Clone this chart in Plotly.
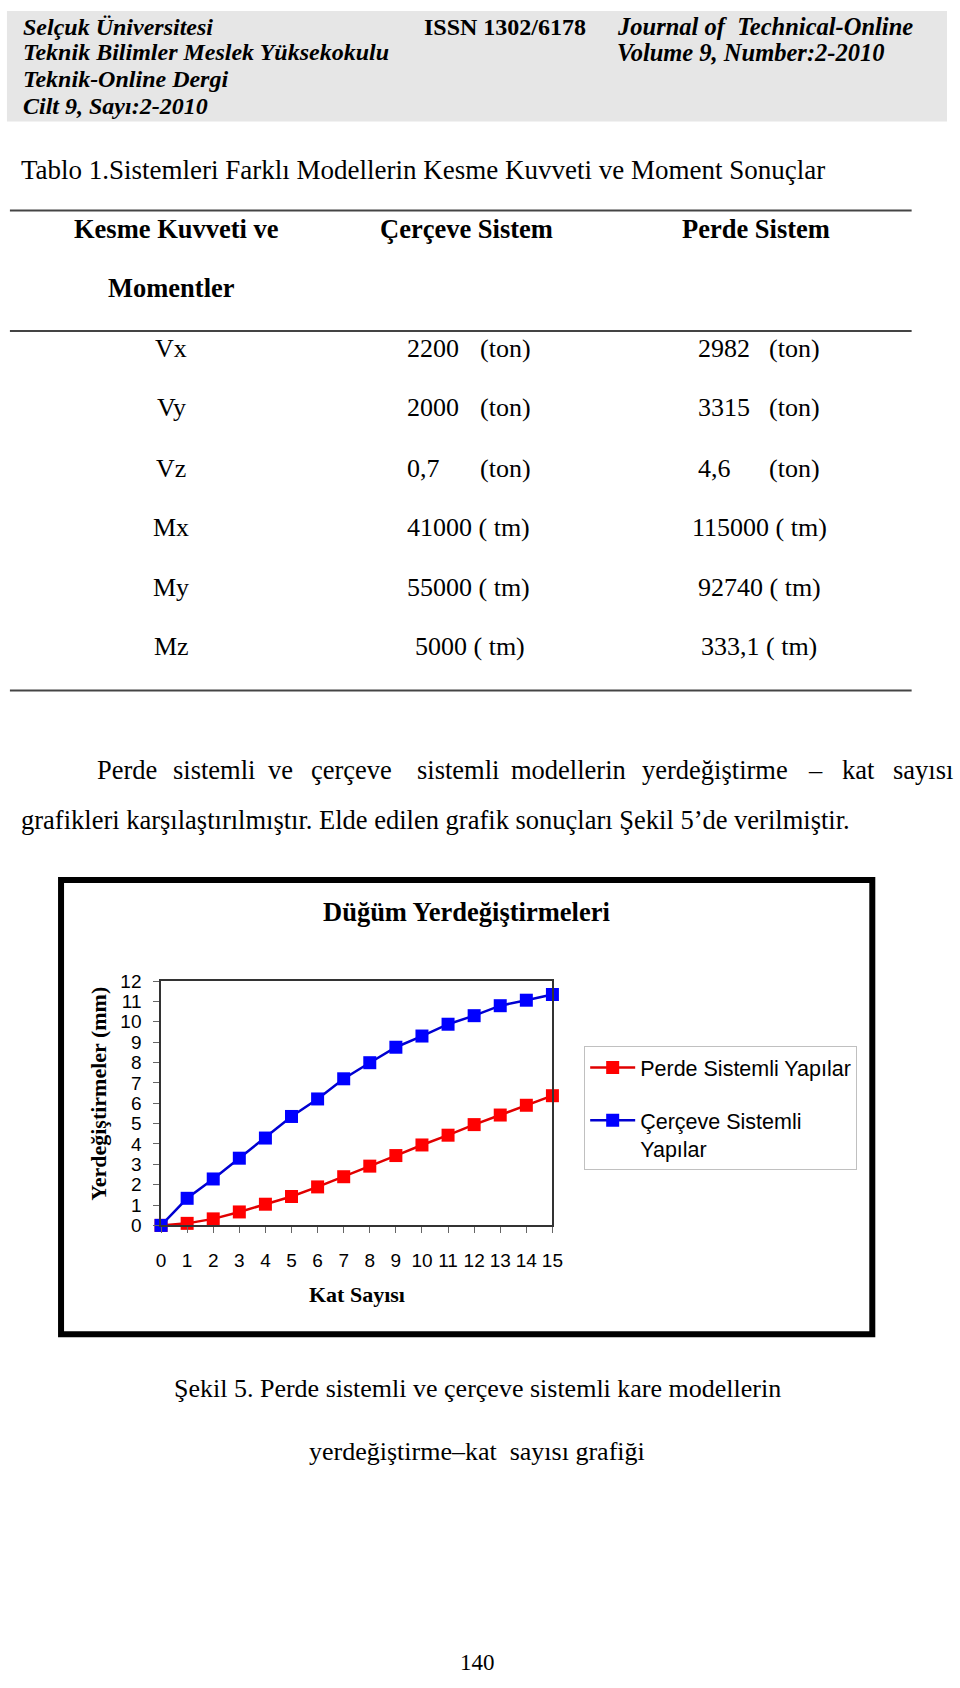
import plotly.graph_objects as go

W, H = 960, 1688

# ---------------- data ----------------
kat_sayisi = [0, 1, 2, 3, 4, 5, 6, 7, 8, 9, 10, 11, 12, 13, 14, 15]
perde = [0.0, 0.10, 0.32, 0.66, 1.04, 1.42, 1.89, 2.39, 2.91, 3.43, 3.95, 4.43, 4.95, 5.42, 5.90, 6.37]
cerceve = [0.0, 1.33, 2.28, 3.30, 4.29, 5.35, 6.21, 7.20, 7.99, 8.75, 9.30, 9.88, 10.30, 10.79, 11.06, 11.34]
y_ticks = [0, 1, 2, 3, 4, 5, 6, 7, 8, 9, 10, 11, 12]

row_labels = ["Vx", "Vy", "Vz", "Mx", "My", "Mz"]
cerceve_vals = ["2200", "2000", "0,7", "41000 ( tm)", "55000 ( tm)", "5000 ( tm)"]
perde_vals = ["2982", "3315", "4,6", "115000 ( tm)", "92740 ( tm)", "333,1 ( tm)"]
units = ["(ton)", "(ton)", "(ton)", "", "", ""]

header_left = ["Selçuk Üniversitesi", "Teknik Bilimler Meslek Yüksekokulu",
               "Teknik-Online Dergi", "Cilt 9, Sayı:2-2010"]
header_right = ["Journal of  Technical-Online", "Volume 9, Number:2-2010"]


def px(x):
    return x / W


def py(y):
    return 1 - y / H


SERIF = "Liberation Serif, Times New Roman, serif"
SANS = "Liberation Sans, Arial, sans-serif"

fig = go.Figure()
fig.add_trace(go.Scatter(
    x=kat_sayisi, y=perde, name="Perde Sistemli Yapılar", legendgroup="a",
    mode="lines+markers", cliponaxis=False,
    line=dict(color="#e00000", width=2.5),
    marker=dict(symbol="square", size=13, color="#ff0000")))
fig.add_trace(go.Scatter(
    x=kat_sayisi, y=cerceve, name="Çerçeve Sistemli<br>Yapılar", legendgroup="b",
    mode="lines+markers", cliponaxis=False,
    line=dict(color="#0000d0", width=2.5),
    marker=dict(symbol="square", size=13, color="#0000ff")))

ann = []
shapes = []


def add_text(x, y, text, size, family=SERIF, anchor="left", angle=0):
    ann.append(dict(xref="paper", yref="paper", x=px(x), y=py(y), text=text,
                    xanchor=anchor, yanchor="middle", showarrow=False, textangle=angle,
                    font=dict(family=family, size=size, color="black")))


# header band
shapes.append(dict(type="rect", xref="paper", yref="paper", x0=px(2), x1=px(958),
                   y0=py(113), y1=py(1), fillcolor="#e6e6e6", line=dict(width=0), layer="below"))
hy = [17, 43, 70, 97]
for t, y in zip(header_left, hy):
    add_text(16, y, "<b><i>" + t + "</i></b>", 24)
add_text(424, 17, "<b>ISSN 1302/6178</b>", 24)
for t, y in zip(header_right, hy[:2]):
    add_text(620, y, "<b><i>" + t + "</i></b>", 24.5)

# table
add_text(14, 162, "Tablo 1.Sistemleri Farklı Modellerin Kesme Kuvveti ve Moment Sonuçlar", 27)
for y in [203, 325, 689]:
    shapes.append(dict(type="line", xref="paper", yref="paper", x0=px(5), x1=px(922), y0=py(y), y1=py(y),
                       line=dict(color="#444", width=2)))
for t, x, y in [("Kesme Kuvveti ve", 174, 222), ("Momentler", 169, 282),
                ("Çerçeve Sistem", 469, 222), ("Perde Sistem", 764, 222)]:
    add_text(x, y, "<b>" + t + "</b>", 26.5, anchor="center")
row_y = [343, 403, 464, 524, 585, 645]
c2x = [407, 407, 407, 407, 407, 415]
c3x = [703, 703, 703, 697, 703, 706]
for lab, v2, v3, u, y, x2, x3 in zip(row_labels, cerceve_vals, perde_vals, units, row_y, c2x, c3x):
    add_text(169, y, lab, 26, anchor="center")
    add_text(x2, y, v2, 26)
    add_text(x3, y, v3, 26)
    if u:
        add_text(481, y, u, 26)
        add_text(775, y, u, 26)

# paragraph (justified first line)
words1 = ["Perde", "sistemli", "ve", "çerçeve", "sistemli", "modellerin", "yerdeğiştirme", "–", "kat", "sayısı"]
wx1 = [92, 169, 265, 309, 417, 513, 646, 815, 849, 901]
for w, x in zip(words1, wx1):
    add_text(x, 770, w, 26.5)
add_text(14, 820, "grafikleri karşılaştırılmıştır. Elde edilen grafik sonuçları Şekil 5’de verilmiştir.", 26.5)

# chart frame
shapes.append(dict(type="rect", xref="paper", yref="paper", x0=px(57), x1=px(882), y0=py(1341), y1=py(881),
                   line=dict(color="black", width=6), fillcolor="rgba(0,0,0,0)"))
add_text(469, 913, "<b>Düğüm Yerdeğiştirmeleri</b>", 26.5, anchor="center")
add_text(358, 1301, "<b>Kat Sayısı</b>", 22, anchor="center")
add_text(95, 1097, "<b>Yerdeğiştirmeler (mm)</b>", 22, anchor="center", angle=-90)

# caption (centred on page)
add_text(480, 1396, "Şekil 5. Perde sistemli ve çerçeve sistemli kare modellerin", 26, anchor="center")
add_text(480, 1460, "yerdeğiştirme–kat\u00a0 sayısı grafiği", 26, anchor="center")
add_text(480, 1673, "140", 23, anchor="center")

axis_common = dict(showline=True, mirror=True, linecolor="#333", linewidth=1.5,
                   ticks="outside", ticklen=6, tickcolor="#666", tickwidth=1,
                   showgrid=False, zeroline=False, fixedrange=True,
                   tickfont=dict(family=SANS, size=19, color="black"))

fig.update_layout(
    width=W, height=H, margin=dict(l=0, r=0, t=0, b=0, pad=0),
    paper_bgcolor="white", plot_bgcolor="white",
    xaxis=dict(domain=[158.7 / W, 556.7 / W], range=[0, 15], tickmode="array", tickvals=kat_sayisi,
               ticklabelstandoff=11, **axis_common),
    yaxis=dict(domain=[py(1230.7), py(983.3)], range=[0, 12], tickmode="array", tickvals=y_ticks,
               ticklabelstandoff=8, **axis_common),
    showlegend=True,
    legend=dict(x=px(589), y=py(1049), xanchor="left", yanchor="top",
                bgcolor="white", bordercolor="#c0c0c0", borderwidth=1,
                font=dict(family=SANS, size=21.5, color="black"),
                tracegroupgap=22, itemwidth=45, valign="top", traceorder="grouped"),
    annotations=ann, shapes=shapes,
)

fig.write_html("out.html")
